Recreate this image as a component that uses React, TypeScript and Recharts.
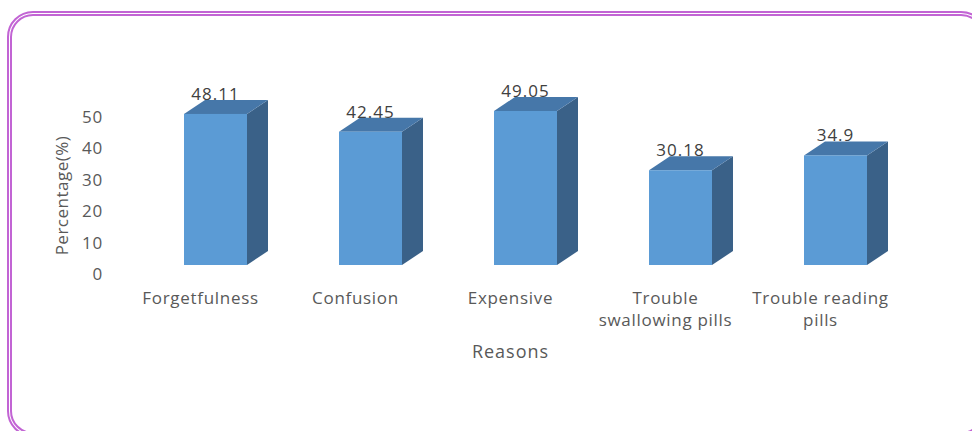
import { BarChart, Bar, XAxis, YAxis, LabelList } from "recharts";

const categories = [
  "Forgetfulness",
  "Confusion",
  "Expensive",
  "Trouble\nswallowing pills",
  "Trouble reading\npills",
];
const percentages = [48.11, 42.45, 49.05, 30.18, 34.9];
const yTicks = [0, 10, 20, 30, 40, 50];

const data = categories.map((name, i) => ({ name, value: percentages[i] }));

const FRONT = "#5b9bd5";
const TOP = "#4677a9";
const SIDE = "#3a6188";
const TEXT = "#595959";
const FONT = "'Open Sans', sans-serif";

// 3D look: front face shifted right of the category centre, depth goes up-right
const SHIFT_X = 15;
const DEPTH_X = 21;
const DEPTH_Y = 14;
// the axis labels sit on the back floor, a bit lower than the front faces
const FLOOR_DY = 9;

const Bar3D = (props: any) => {
  const { x, y, width, height } = props;
  const fx = x + SHIFT_X;
  const top = `${fx},${y} ${fx + DEPTH_X},${y - DEPTH_Y} ${fx + width + DEPTH_X},${y - DEPTH_Y} ${fx + width},${y}`;
  const side = `${fx + width},${y} ${fx + width + DEPTH_X},${y - DEPTH_Y} ${fx + width + DEPTH_X},${y + height - DEPTH_Y} ${fx + width},${y + height}`;
  return (
    <g>
      <polygon points={side} fill={SIDE} />
      <polygon points={top} fill={TOP} />
      <rect x={fx} y={y} width={width} height={height} fill={FRONT} />
    </g>
  );
};

const ValueLabel = (props: any) => {
  const { x, y, width, value } = props;
  return (
    <text
      x={x + SHIFT_X + width / 2}
      y={y - 14}
      textAnchor="middle"
      fill="#404040"
      fontSize={17}
      letterSpacing={1}
      fontFamily={FONT}
    >
      {value}
    </text>
  );
};

const YTick = (props: any) => {
  const { x, y, payload } = props;
  return (
    <text
      x={x - 20}
      y={y + FLOOR_DY + 6}
      textAnchor="end"
      fill={TEXT}
      fontSize={17}
      letterSpacing={0.8}
      fontFamily={FONT}
    >
      {payload.value}
    </text>
  );
};

const XTick = (props: any) => {
  const { x, y, payload } = props;
  const lines = String(payload.value).split("\n");
  return (
    <text
      x={x}
      y={y + 39}
      textAnchor="middle"
      fill={TEXT}
      fontSize={17}
      letterSpacing={0.7}
      fontFamily={FONT}
    >
      {lines.map((line, i) => (
        <tspan key={i} x={x} dy={i === 0 ? 0 : 22}>
          {line}
        </tspan>
      ))}
    </text>
  );
};

const YTitle = (props: any) => {
  const { viewBox } = props;
  const cx = viewBox.x + viewBox.width / 2 + 6;
  const cy = viewBox.y + viewBox.height / 2 + FLOOR_DY;
  return (
    <text
      x={cx}
      y={cy}
      transform={`rotate(-90 ${cx} ${cy})`}
      textAnchor="middle"
      fill={TEXT}
      fontSize={17}
      letterSpacing={0.5}
      fontFamily={FONT}
    >
      Percentage(%)
    </text>
  );
};

const XTitle = (props: any) => {
  const { viewBox } = props;
  return (
    <text
      x={viewBox.x + viewBox.width / 2}
      y={viewBox.y + 93}
      textAnchor="middle"
      fill={TEXT}
      fontSize={18}
      letterSpacing={1}
      fontFamily={FONT}
    >
      Reasons
    </text>
  );
};

export default function App() {
  return (
    <div
      style={{
        position: "fixed",
        left: 0,
        top: 0,
        width: 972,
        height: 431,
        overflow: "hidden",
        background: "#fff",
      }}
    >
      <div
        style={{
          position: "absolute",
          left: 7,
          top: 11,
          width: 980,
          height: 426,
          boxSizing: "border-box",
          border: "5px double #c264d4",
          borderRadius: 26,
        }}
      />
      <div style={{ position: "absolute", left: 0, top: 0 }}>
        <BarChart
          width={972}
          height={431}
          data={data}
          margin={{ top: 108, right: 74, left: 0, bottom: 66 }}
        >
          <YAxis
            type="number"
            domain={[0, 50]}
            ticks={yTicks}
            interval={0}
            width={123}
            axisLine={false}
            tickLine={false}
            tickSize={0}
            tickMargin={0}
            tick={<YTick />}
            label={<YTitle />}
          />
          <XAxis
            dataKey="name"
            height={100}
            interval={0}
            axisLine={false}
            tickLine={false}
            tickSize={0}
            tickMargin={0}
            tick={<XTick />}
            label={<XTitle />}
          />
          <Bar dataKey="value" barSize={63} shape={<Bar3D />} isAnimationActive={false}>
            <LabelList dataKey="value" content={<ValueLabel />} />
          </Bar>
        </BarChart>
      </div>
    </div>
  );
}
